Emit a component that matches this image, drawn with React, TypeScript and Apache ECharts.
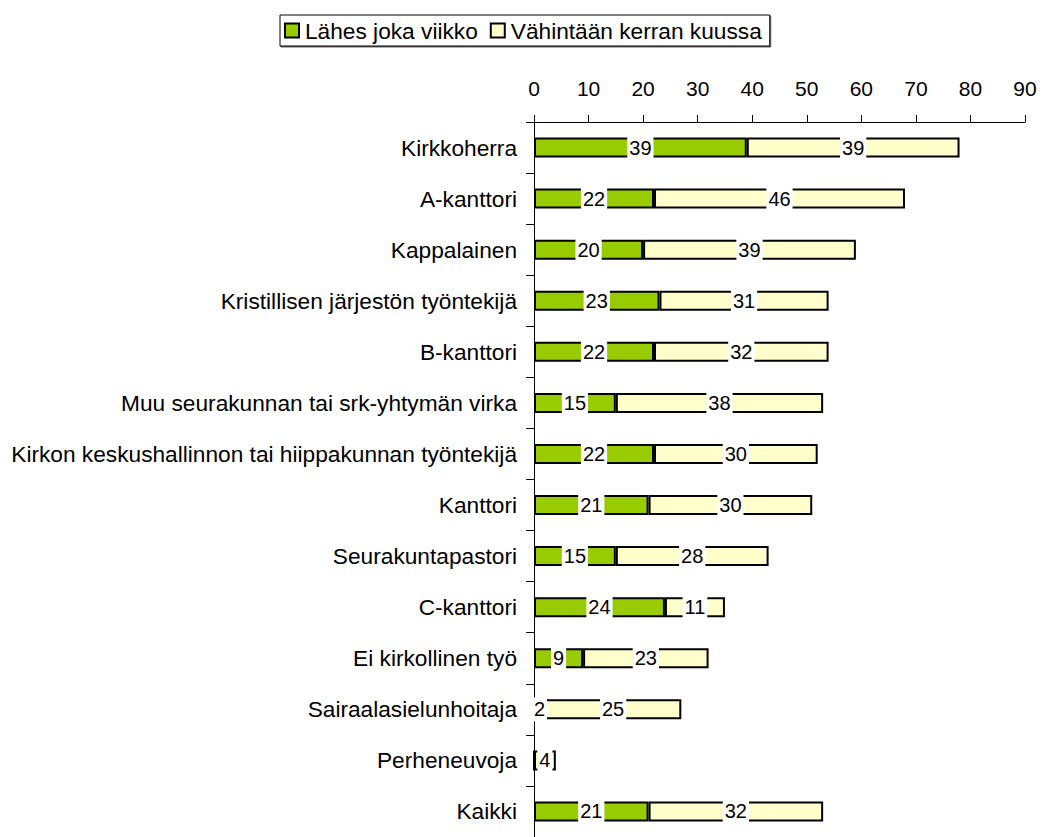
import React, { useEffect, useRef } from "react";
import * as echarts from "echarts";

const categories = [
  "Kirkkoherra",
  "A-kanttori",
  "Kappalainen",
  "Kristillisen järjestön työntekijä",
  "B-kanttori",
  "Muu seurakunnan tai srk-yhtymän virka",
  "Kirkon keskushallinnon tai hiippakunnan työntekijä",
  "Kanttori",
  "Seurakuntapastori",
  "C-kanttori",
  "Ei kirkollinen työ",
  "Sairaalasielunhoitaja",
  "Perheneuvoja",
  "Kaikki",
];
const weekly = [39, 22, 20, 23, 22, 15, 22, 21, 15, 24, 9, 2, 0, 21];
const monthly = [39, 46, 39, 31, 32, 38, 30, 30, 28, 11, 23, 25, 4, 32];
const xTicks = { min: 0, max: 90, interval: 10 };
const seriesNames = ["Lähes joka viikko", "Vähintään kerran kuussa"];

const FONT = "'Liberation Sans', Arial, sans-serif";

export default function App() {
  const ref = useRef<HTMLDivElement>(null);
  useEffect(() => {
    if (!ref.current) return;
    const chart = echarts.init(ref.current, null, { renderer: "svg" });
    const label = {
      show: true,
      position: "inside",
      color: "#000",
      fontSize: 20,
      fontFamily: FONT,
      backgroundColor: "#fff",
      padding: [2, 2, 2, 2],
    };
    const mk = (vals: number[]) =>
      vals.map((v) => (v === 0 ? { value: 0, label: { show: false } } : v));
    chart.setOption({
      animation: false,
      textStyle: { fontFamily: FONT },
      legend: {
        top: 15,
        left: 280,
        itemWidth: 14,
        itemHeight: 14,
        itemGap: 12,
        padding: [4, 8, 4, 4],
        borderColor: "#000",
        borderWidth: 1,
        shadowColor: "rgba(0,0,0,0.6)",
        shadowOffsetX: 1,
        shadowOffsetY: 1,
        shadowBlur: 0,
        backgroundColor: "#fff",
        textStyle: { fontSize: 22.7, color: "#000", fontFamily: FONT, padding: [0, 0, 0, 1] },
        data: seriesNames.map((n) => ({ name: n, icon: "rect" })),
      },
      grid: { left: 534, top: 122, width: 491, height: 718 },
      xAxis: {
        type: "value",
        position: "top",
        min: xTicks.min,
        max: xTicks.max,
        interval: xTicks.interval,
        axisLine: { show: true, lineStyle: { color: "#000" } },
        axisTick: { show: true, length: 7, lineStyle: { color: "#000" } },
        axisLabel: { color: "#000", fontSize: 21, margin: 23, fontFamily: FONT },
        splitLine: { show: false },
      },
      yAxis: {
        type: "category",
        inverse: true,
        data: categories,
        axisLine: { show: true, lineStyle: { color: "#000" } },
        axisTick: { show: true, length: 8, lineStyle: { color: "#000" } },
        axisLabel: { color: "#000", fontSize: 22.7, margin: 17, fontFamily: FONT },
      },
      series: [
        {
          name: seriesNames[0],
          type: "bar",
          stack: "s",
          barWidth: 20,
          data: mk(weekly),
          itemStyle: { color: "#99CC00", borderColor: "#000", borderWidth: 2 },
          label,
        },
        {
          name: seriesNames[1],
          type: "bar",
          stack: "s",
          barWidth: 20,
          data: mk(monthly),
          itemStyle: { color: "#FFFFCC", borderColor: "#000", borderWidth: 2 },
          label,
        },
      ],
    });
    return () => chart.dispose();
  }, []);
  return (
    <div
      ref={ref}
      style={{ position: "fixed", left: 0, top: 0, width: 1045, height: 837, background: "#fff" }}
    />
  );
}
